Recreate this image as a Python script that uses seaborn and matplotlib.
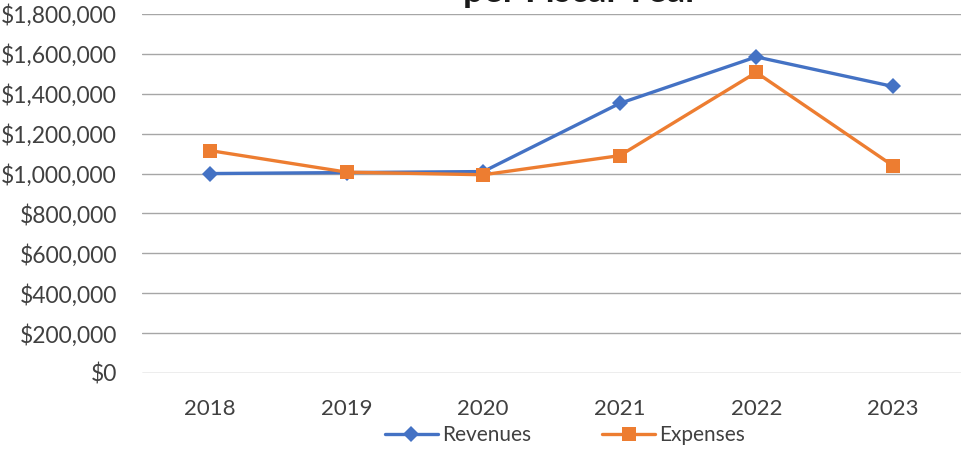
import matplotlib
matplotlib.use("Agg")
import matplotlib.pyplot as plt
from matplotlib.ticker import FuncFormatter, MultipleLocator
import seaborn as sns
import pandas as pd

years = ["2018", "2019", "2020", "2021", "2022", "2023"]
revenues = [1000000, 1005000, 1010000, 1352000, 1585000, 1437000]
expenses = [1115000, 1007000, 994000, 1090000, 1507000, 1040000]

sns.set_theme(style="white")
plt.rcParams["font.family"] = ["Lato", "DejaVu Sans"]

df = pd.DataFrame({
    "Year": years * 2,
    "Amount": revenues + expenses,
    "Series": ["Revenues"] * len(years) + ["Expenses"] * len(years),
})

fig = plt.figure(figsize=(9.67, 4.54), dpi=100)
ax = fig.add_axes([142 / 967, 1 - 373 / 454, (961 - 142) / 967, (373 - 14) / 454])

blue = "#4472C4"
orange = "#ED7D31"

sns.lineplot(data=df[df.Series == "Revenues"], x="Year", y="Amount", ax=ax,
             color=blue, linewidth=2.4, marker="D", markersize=8,
             markeredgewidth=0, label="Revenues", sort=False)
sns.lineplot(data=df[df.Series == "Expenses"], x="Year", y="Amount", ax=ax,
             color=orange, linewidth=2.4, marker="s", markersize=10.5,
             markeredgewidth=0, label="Expenses", sort=False)

ax.set_xlim(-0.5, len(years) - 0.5)
ax.set_ylim(0, 1800000)
ax.yaxis.set_major_locator(MultipleLocator(200000))
ax.yaxis.set_major_formatter(FuncFormatter(lambda v, p: f"${v:,.0f}"))
ax.grid(axis="y", color="#A6A6A6", linewidth=1.0)
ax.set_axisbelow(True)
for s in ax.spines.values():
    s.set_visible(False)
ax.set_xlabel("")
ax.set_ylabel("")
ax.tick_params(axis="y", labelsize=16.5, pad=18, length=0)
ax.tick_params(axis="x", labelsize=16, pad=19, length=0)
for lbl in ax.get_xticklabels() + ax.get_yticklabels():
    lbl.set_color("#404040")

ax.legend_.remove()
handles, labels = ax.get_legend_handles_labels()
fig.legend(handles, labels, loc="center", bbox_to_anchor=(565 / 967, 1 - 435 / 454),
           ncol=2, frameon=False, fontsize=15, handlelength=2.55,
           columnspacing=3.4, handletextpad=0.2, labelcolor="#404040",
           borderpad=0.2)

# Second line of the chart title, sitting right at the top edge
fig.text(581 / 967, 1 - 2 / 454, "per Fiscal Year", ha="center", va="baseline",
         fontsize=26, fontweight="bold", color="#1a1a1a")

fig.savefig("out.png", dpi=100)
